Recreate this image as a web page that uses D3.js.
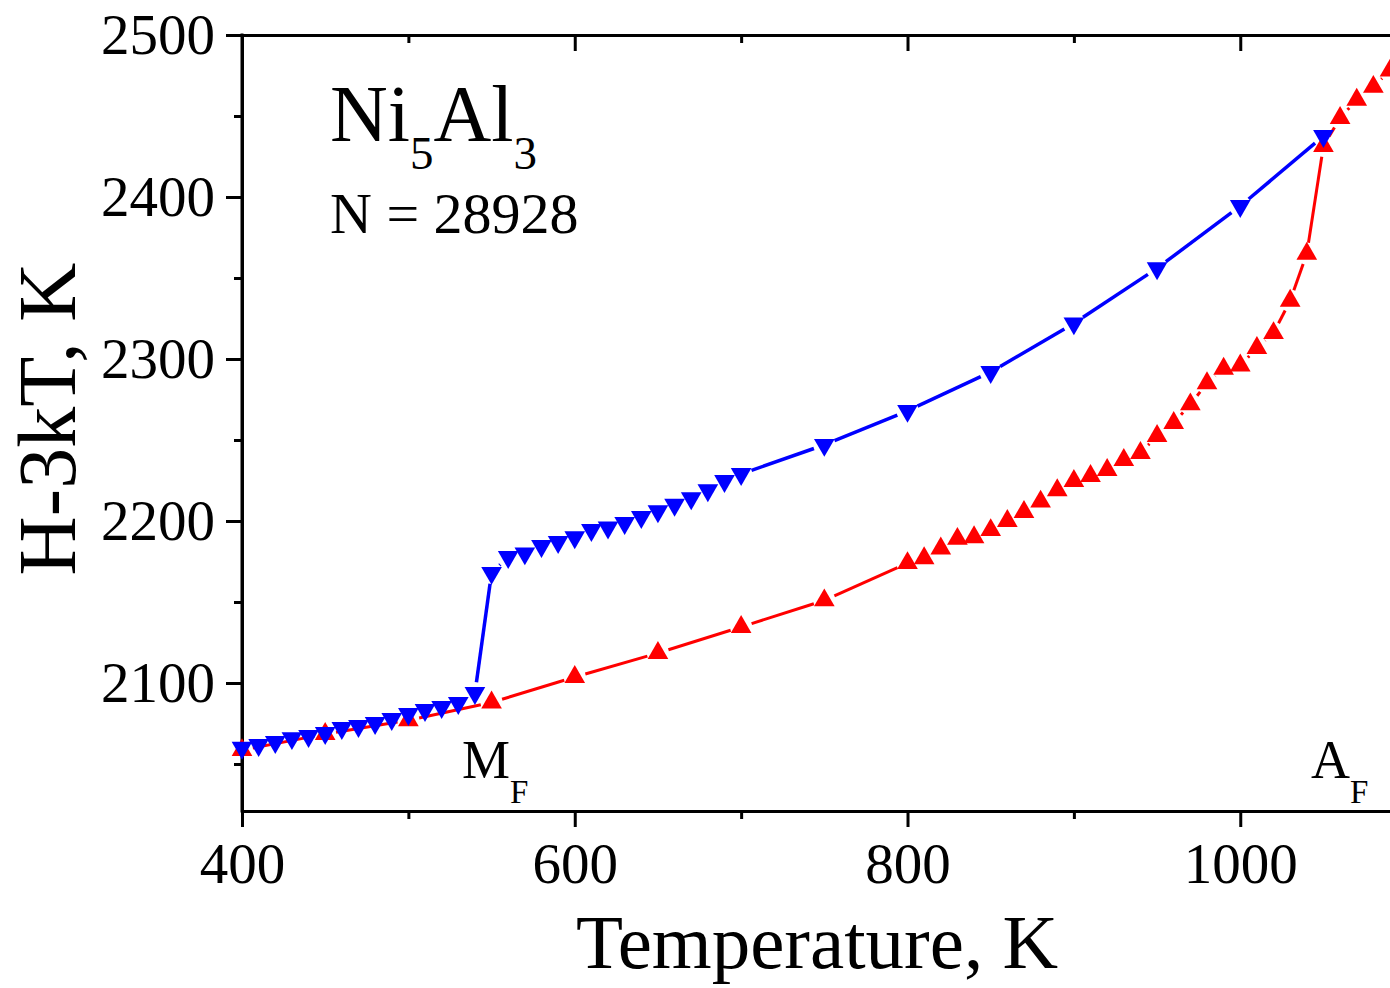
<!DOCTYPE html>
<html>
<head>
<meta charset="utf-8">
<script src="https://cdn.jsdelivr.net/npm/d3@7"></script>
<style>
  html, body { margin: 0; padding: 0; background: #fff; }
  svg { display: block; }
  text, tspan { font-family: "Liberation Serif", "Times New Roman", serif; fill: #000; }
</style>
</head>
<body>
<svg id="chart" width="1390" height="988"></svg>
<script>
// Cooling run (blue, down triangles)
const coolT = [400, 410, 420, 430, 440, 450, 460, 470, 480, 490, 500, 510, 520, 530, 540,
               550, 560, 570, 580, 590, 600, 610, 620, 630, 640, 650, 660, 670, 680, 690, 700,
               750, 800, 850, 900, 950, 1000, 1050];
const coolH = [2060, 2061.7, 2063.6, 2066, 2067.3, 2069.1, 2072.2, 2073.5, 2075.3, 2077.8, 2080.9, 2083.3, 2085.2, 2087.7, 2093.8,
               2168, 2177.8, 2180, 2184.6, 2187, 2190, 2194.4, 2196, 2198.8, 2202.5, 2206, 2210, 2214, 2219, 2224.7, 2229,
               2247, 2268, 2292, 2322, 2356, 2394.4, 2437.6];

// Heating run (red, up triangles)
const heatT = [400, 450, 500, 550, 600, 650, 700, 750, 800,
               810, 820, 830, 840, 850, 860, 870, 880, 890, 900, 910, 920, 930, 940, 950,
               960, 970, 980, 990, 1000, 1010, 1020, 1030, 1040, 1050, 1060, 1070, 1080, 1090];
const heatH = [2058.6, 2068.5, 2077, 2088, 2103.7, 2118.5, 2134.6, 2151, 2174,
               2177, 2183, 2189, 2190, 2194.4, 2200, 2205.6, 2212, 2219, 2224.7, 2227.8, 2231.5, 2237.7, 2242, 2252.5,
               2260.5, 2272, 2285, 2294, 2296, 2306.8, 2316, 2336, 2365, 2431.5, 2448.8, 2460, 2468, 2478];

const xMajor = [400, 600, 800, 1000];
const xMinor = [500, 700, 900];
const yMajor = [2100, 2200, 2300, 2400, 2500];
const yMinor = [2050, 2150, 2250, 2350, 2450];

const svg = d3.select("#chart");
const plotLeft = 242, plotRight = 1390, plotTop = 35, plotBottom = 811;

const x = d3.scaleLinear().domain([400, 1090]).range([plotLeft, plotRight]);
const y = d3.scaleLinear().domain([2021, 2500]).range([plotBottom, plotTop]);

const axisStroke = 3;

// Bottom axis: outward major ticks with labels, shorter minor ticks
const gx = svg.append("g").attr("transform", `translate(0,${plotBottom})`);
gx.call(d3.axisBottom(x).tickValues(xMajor).tickSize(16).tickSizeOuter(0).tickPadding(16).tickFormat(d3.format("d")));
gx.append("g").call(d3.axisBottom(x).tickValues(xMinor).tickSize(8).tickSizeOuter(0).tickFormat(""));

// Top axis: inward ticks, no labels
const gt = svg.append("g").attr("transform", `translate(0,${plotTop})`);
gt.call(d3.axisTop(x).tickValues(xMajor).tickSize(-16).tickSizeOuter(0).tickFormat(""));
gt.append("g").call(d3.axisTop(x).tickValues(xMinor).tickSize(-8).tickSizeOuter(0).tickFormat(""));

// Left axis: outward ticks with labels
const gy = svg.append("g").attr("transform", `translate(${plotLeft},0)`);
gy.call(d3.axisLeft(y).tickValues(yMajor).tickSize(16).tickSizeOuter(0).tickPadding(11).tickFormat(d3.format("d")));
gy.append("g").call(d3.axisLeft(y).tickValues(yMinor).tickSize(8).tickSizeOuter(0).tickFormat(""));

svg.selectAll(".domain").attr("stroke", "#000").attr("stroke-width", axisStroke);
svg.selectAll(".tick line").attr("stroke", "#000").attr("stroke-width", axisStroke);
svg.selectAll(".tick text")
  .attr("font-family", "Liberation Serif, Times New Roman, serif")
  .attr("font-size", 57)
  .attr("fill", "#000");

// Make sure the left domain line reaches both corners
gy.select(".domain").attr("d", `M0,${plotTop - 1.5}V${plotBottom + 1.5}`);

// Series: line segments with a small gap around each marker, then markers
const plot = svg.append("g");
const gap = 11;

function drawSeries(Ts, Hs, color, width, down) {
  const pts = Ts.map((t, i) => [x(t), y(Hs[i])]);
  const segs = [];
  for (let i = 0; i < pts.length - 1; i++) {
    const [x1, y1] = pts[i], [x2, y2] = pts[i + 1];
    const len = Math.hypot(x2 - x1, y2 - y1);
    if (len <= 2 * gap) continue;
    const ux = (x2 - x1) / len, uy = (y2 - y1) / len;
    segs.push([x1 + ux * gap, y1 + uy * gap, x2 - ux * gap, y2 - uy * gap]);
  }
  const g = plot.append("g");
  g.selectAll("line").data(segs).join("line")
    .attr("x1", d => d[0]).attr("y1", d => d[1])
    .attr("x2", d => d[2]).attr("y2", d => d[3])
    .attr("stroke", color).attr("stroke-width", width).attr("stroke-linecap", "butt");
  const sym = d3.symbol(d3.symbolTriangle, 185)();
  g.selectAll("path").data(pts).join("path")
    .attr("d", sym)
    .attr("transform", d => `translate(${d[0]},${d[1]})` + (down ? " rotate(180)" : ""))
    .attr("fill", color);
}

drawSeries(heatT, heatH, "#ff0000", 3, false);
drawSeries(coolT, coolH, "#0000ff", 3.5, true);

// Axis titles
svg.append("text")
  .attr("x", 817).attr("y", 968)
  .attr("text-anchor", "middle")
  .attr("font-size", 77)
  .text("Temperature, K");

svg.append("text")
  .attr("transform", "translate(75,419) rotate(-90)")
  .attr("text-anchor", "middle")
  .attr("font-size", 82)
  .text("H-3kT, K");

// Composition label
const comp = svg.append("text").attr("x", 330).attr("y", 141).attr("font-size", 80);
comp.append("tspan").text("Ni");
comp.append("tspan").attr("font-size", 47).attr("dy", 28).text("5");
comp.append("tspan").attr("dy", -28).text("Al");
comp.append("tspan").attr("font-size", 47).attr("dy", 28).text("3");

svg.append("text").attr("x", 330).attr("y", 233).attr("font-size", 58).text("N = 28928");

// Transformation temperature markers
function subLabel(xp, main, sub) {
  const t = svg.append("text").attr("x", xp).attr("y", 778).attr("font-size", 54);
  t.append("tspan").text(main);
  t.append("tspan").attr("font-size", 33).attr("dy", 25).text(sub);
}
subLabel(462, "M", "F");
subLabel(1311, "A", "F");
</script>
</body>
</html>
